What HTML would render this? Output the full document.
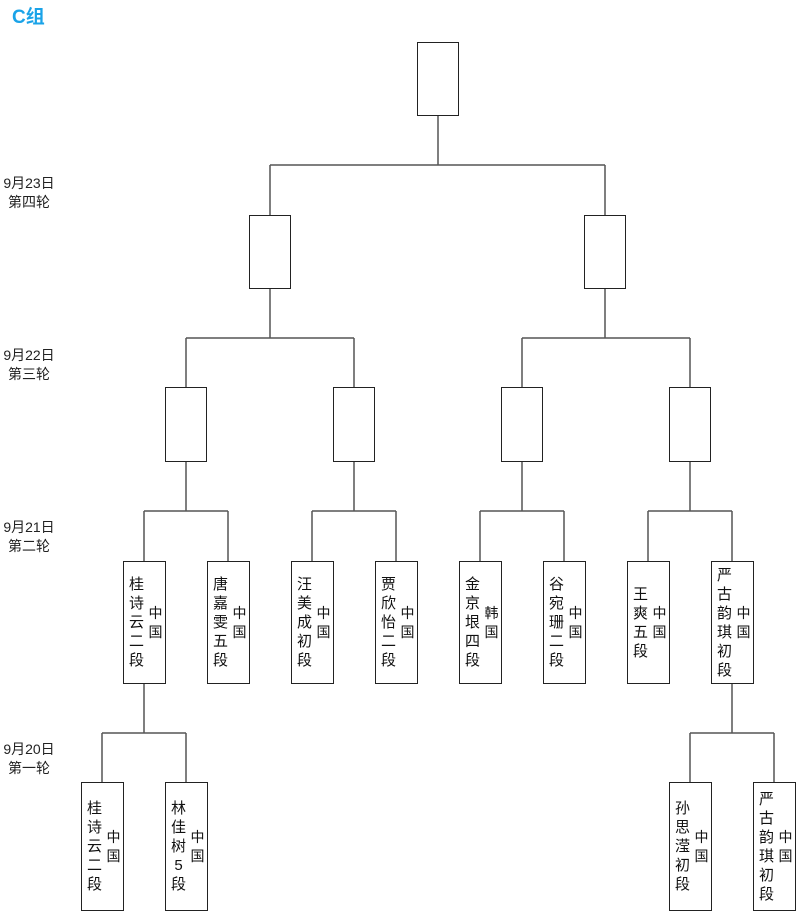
<!DOCTYPE html>
<html><head><meta charset="utf-8"><style>
body{margin:0;width:800px;height:915px;background:#fff;position:relative;overflow:hidden;font-family:"Liberation Sans","Noto Sans CJK SC",sans-serif;}
.b{position:absolute;border:1px solid #222;box-sizing:border-box;background:#fff;display:flex;align-items:center;padding-left:3px;}
.n{width:20px;font-size:15px;line-height:19px;color:#111;text-align:center;}
.c{width:20px;font-size:14px;line-height:19px;color:#111;text-align:center;}
.l{position:absolute;left:0;width:58px;text-align:center;font-size:14px;line-height:19px;color:#222;}
svg{position:absolute;left:0;top:0;}
</style></head><body>
<div style="position:absolute;left:12px;top:2px;font-size:19px;font-weight:bold;color:#1aa3e8;">C组</div>
<div class="l" style="top:174px">9月23日<br>第四轮</div>
<div class="l" style="top:346px">9月22日<br>第三轮</div>
<div class="l" style="top:518px">9月21日<br>第二轮</div>
<div class="l" style="top:740px">9月20日<br>第一轮</div>
<svg width="800" height="915" stroke="#555" stroke-width="1.5" fill="none">
<path d="M438 115V165M270 165H605M270 165V215M605 165V215"/>
<path d="M270 288V338M186 338H354M186 338V387M354 338V387"/>
<path d="M605 288V338M522 338H690M522 338V387M690 338V387"/>
<path d="M186 461V511M144 511H228M144 511V561M228 511V561"/>
<path d="M354 461V511M312 511H396M312 511V561M396 511V561"/>
<path d="M522 461V511M480 511H564M480 511V561M564 511V561"/>
<path d="M690 461V511M648 511H732M648 511V561M732 511V561"/>
<path d="M144 683V733M102 733H186M102 733V782M186 733V782"/>
<path d="M732 683V733M690 733H774M690 733V782M774 733V782"/>
</svg>
<div class="b" style="left:417px;top:42px;width:42px;height:74px"></div>
<div class="b" style="left:249px;top:215px;width:42px;height:74px"></div>
<div class="b" style="left:584px;top:215px;width:42px;height:74px"></div>
<div class="b" style="left:165px;top:387px;width:42px;height:75px"></div>
<div class="b" style="left:333px;top:387px;width:42px;height:75px"></div>
<div class="b" style="left:501px;top:387px;width:42px;height:75px"></div>
<div class="b" style="left:669px;top:387px;width:42px;height:75px"></div>

<div class="b" style="left:123px;top:561px;width:43px;height:123px"><div class="n">桂<br>诗<br>云<br>二<br>段</div><div class="c">中<br>国</div></div>
<div class="b" style="left:207px;top:561px;width:43px;height:123px"><div class="n">唐<br>嘉<br>雯<br>五<br>段</div><div class="c">中<br>国</div></div>
<div class="b" style="left:291px;top:561px;width:43px;height:123px"><div class="n">汪<br>美<br>成<br>初<br>段</div><div class="c">中<br>国</div></div>
<div class="b" style="left:375px;top:561px;width:43px;height:123px"><div class="n">贾<br>欣<br>怡<br>二<br>段</div><div class="c">中<br>国</div></div>
<div class="b" style="left:459px;top:561px;width:43px;height:123px"><div class="n">金<br>京<br>垠<br>四<br>段</div><div class="c">韩<br>国</div></div>
<div class="b" style="left:543px;top:561px;width:43px;height:123px"><div class="n">谷<br>宛<br>珊<br>二<br>段</div><div class="c">中<br>国</div></div>
<div class="b" style="left:627px;top:561px;width:43px;height:123px"><div class="n">王<br>爽<br>五<br>段</div><div class="c">中<br>国</div></div>
<div class="b" style="left:711px;top:561px;width:43px;height:123px"><div class="n">严<br>古<br>韵<br>琪<br>初<br>段</div><div class="c">中<br>国</div></div>

<div class="b" style="left:81px;top:782px;width:43px;height:129px"><div class="n">桂<br>诗<br>云<br>二<br>段</div><div class="c">中<br>国</div></div>
<div class="b" style="left:165px;top:782px;width:43px;height:129px"><div class="n">林<br>佳<br>树<br>5<br>段</div><div class="c">中<br>国</div></div>
<div class="b" style="left:669px;top:782px;width:43px;height:129px"><div class="n">孙<br>思<br>滢<br>初<br>段</div><div class="c">中<br>国</div></div>
<div class="b" style="left:753px;top:782px;width:43px;height:129px"><div class="n">严<br>古<br>韵<br>琪<br>初<br>段</div><div class="c">中<br>国</div></div>
</body></html>
